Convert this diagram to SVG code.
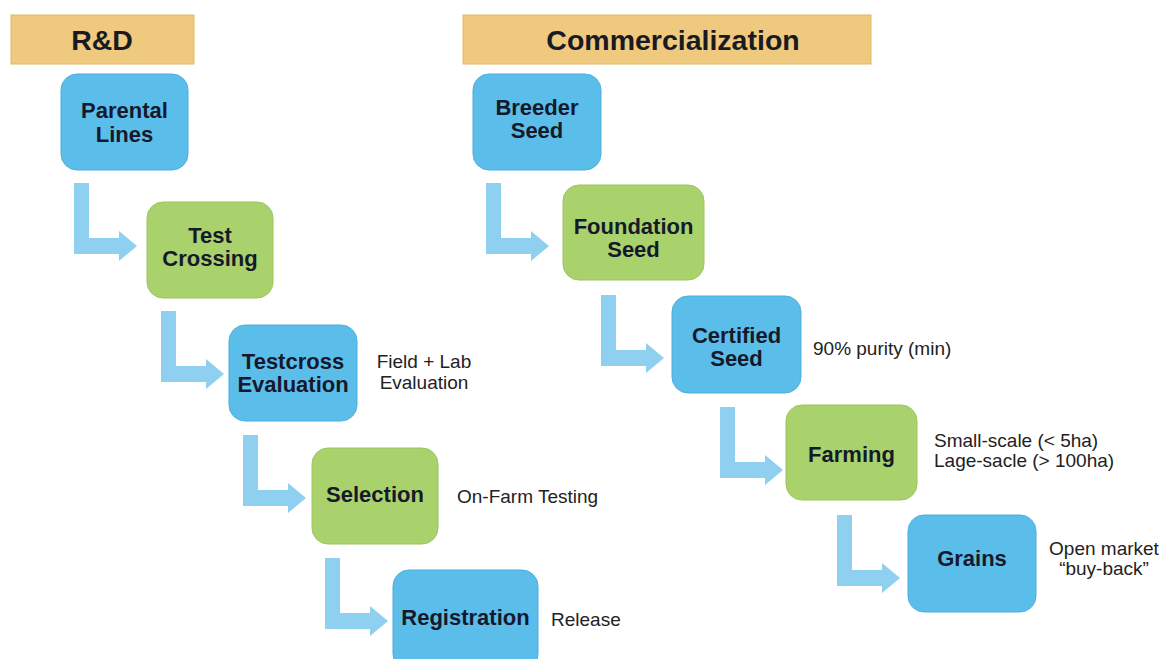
<svg xmlns="http://www.w3.org/2000/svg" xmlns:xlink="http://www.w3.org/1999/xlink" width="1163" height="659" viewBox="0 0 1163 659">
<defs>
<style>
.hdr{fill:#EFC97D;stroke:#E2B868;stroke-width:1}
.hdrt{font-family:"Liberation Sans",Arial,sans-serif;font-weight:bold;font-size:28.5px;fill:#1a1a22;text-anchor:middle}
.blue{fill:#5BBDEA;stroke:#4FAEDD;stroke-width:1}
.green{fill:#A9D16C;stroke:#9CC45F;stroke-width:1}
.lbl{font-family:"Liberation Sans",Arial,sans-serif;font-weight:bold;font-size:22px;fill:#15192a;text-anchor:middle}
.note{font-family:"Liberation Sans",Arial,sans-serif;font-size:19px;fill:#222}
.arr{fill:#8FD0F1}
</style>
<path id="L" d="M0,0 h15 v55 h30 v-7 l18,15 l-18,15 v-7 h-45 z"/>
</defs>
<rect width="1163" height="659" fill="#ffffff"/>

<g id="header-rd"><rect class="hdr" x="11" y="15" width="183" height="49"/><text class="hdrt" x="102" y="50">R&amp;D</text></g>
<g id="header-comm"><rect class="hdr" x="463" y="15" width="408" height="49"/><text class="hdrt" x="673" y="50">Commercialization</text></g>

<g id="connectors" class="arr">
<use xlink:href="#L" transform="translate(74,183)"/>
<use xlink:href="#L" transform="translate(161,311)"/>
<use xlink:href="#L" transform="translate(243,435)"/>
<use xlink:href="#L" transform="translate(325,558)"/>
<use xlink:href="#L" transform="translate(486,183)"/>
<use xlink:href="#L" transform="translate(601,295)"/>
<use xlink:href="#L" transform="translate(720,407)"/>
<use xlink:href="#L" transform="translate(837,515)"/>
</g>

<g id="parental-lines"><rect class="blue" x="61" y="74" width="127" height="96" rx="16"/><text class="lbl" x="124.5" y="118">Parental</text><text class="lbl" x="124.5" y="142">Lines</text></g>
<g id="test-crossing"><rect class="green" x="147" y="202" width="126" height="96" rx="16"/><text class="lbl" x="210" y="243">Test</text><text class="lbl" x="210" y="266">Crossing</text></g>
<g id="testcross-evaluation"><rect class="blue" x="229" y="325" width="128" height="96" rx="16"/><text class="lbl" x="293" y="369">Testcross</text><text class="lbl" x="293" y="392">Evaluation</text>
<text class="note" x="424" y="368" text-anchor="middle">Field + Lab</text><text class="note" x="424" y="389" text-anchor="middle">Evaluation</text></g>
<g id="selection"><rect class="green" x="312" y="448" width="126" height="96" rx="16"/><text class="lbl" x="375" y="502">Selection</text><text class="note" x="457" y="503">On-Farm Testing</text></g>
<g id="registration"><rect class="blue" x="393" y="570" width="145" height="100" rx="16"/><text class="lbl" x="465.5" y="625">Registration</text><text class="note" x="551" y="626">Release</text></g>

<g id="breeder-seed"><rect class="blue" x="473" y="74" width="128" height="96" rx="16"/><text class="lbl" x="537" y="115">Breeder</text><text class="lbl" x="537" y="138">Seed</text></g>
<g id="foundation-seed"><rect class="green" x="563" y="185" width="141" height="95" rx="16"/><text class="lbl" x="633.5" y="234">Foundation</text><text class="lbl" x="633.5" y="257">Seed</text></g>
<g id="certified-seed"><rect class="blue" x="672" y="296" width="129" height="97" rx="16"/><text class="lbl" x="736.5" y="343">Certified</text><text class="lbl" x="736.5" y="366">Seed</text><text class="note" x="813" y="355">90% purity (min)</text></g>
<g id="farming"><rect class="green" x="786" y="405" width="131" height="95" rx="16"/><text class="lbl" x="851.5" y="462">Farming</text><text class="note" x="934" y="447">Small-scale (&lt; 5ha)</text><text class="note" x="934" y="467">Lage-sacle (&gt; 100ha)</text></g>
<g id="grains"><rect class="blue" x="908" y="515" width="128" height="97" rx="16"/><text class="lbl" x="972" y="566">Grains</text><text class="note" x="1104" y="555" text-anchor="middle">Open market</text><text class="note" x="1104" y="575" text-anchor="middle">“buy-back”</text></g>
</svg>
